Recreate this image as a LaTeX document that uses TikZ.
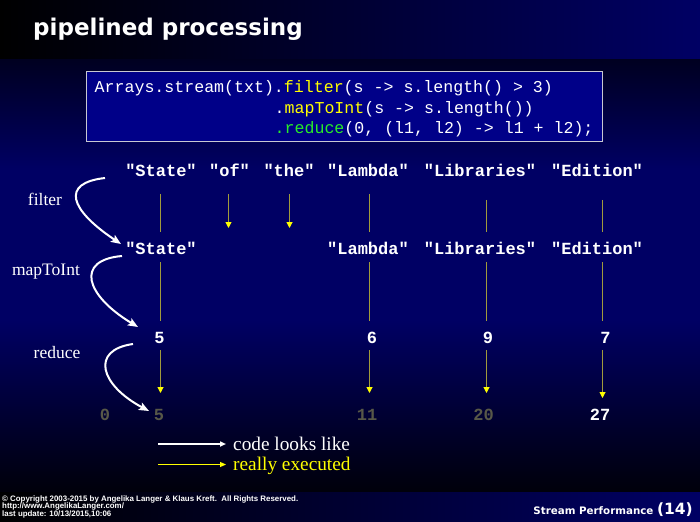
\documentclass[tikz,border=0pt]{standalone}
\usepackage{fontspec}
\setmainfont{Liberation Serif}
\setmonofont{Liberation Mono}
\setsansfont{Liberation Sans}
\newfontfamily\titlefont{DejaVu Sans}
\usetikzlibrary{arrows.meta}

\definecolor{navy}{RGB}{0,0,100}
\definecolor{navytop}{RGB}{0,0,32}
\definecolor{navybot}{RGB}{0,0,10}
\definecolor{boxblue}{RGB}{0,0,136}
\definecolor{boxborder}{RGB}{200,200,210}
\definecolor{codeyellow}{RGB}{255,255,0}
\definecolor{codegreen}{RGB}{40,235,40}
\definecolor{lineyellow}{RGB}{160,155,60}
\definecolor{dimgray}{RGB}{88,88,72}

\tikzset{
  word/.style={anchor=base, inner sep=0pt, text=white, font=\ttfamily\bfseries\fontsize{17}{20}\selectfont},
  dimword/.style={word, text=dimgray},
  codeline/.style={anchor=base west, inner sep=0pt, text=white, font=\ttfamily\fontsize{16.6}{20}\selectfont},
  lbl/.style={inner sep=0pt, text=white, font=\fontsize{17.5}{20}\selectfont},
  legendtext/.style={anchor=base west, inner sep=0pt, font=\fontsize{19.3}{22}\selectfont},
  foot/.style={anchor=base west, inner sep=0pt, text=white, font=\sffamily\bfseries\fontsize{7.9}{8}\selectfont},
  yline/.style={draw=lineyellow, line width=1pt},
  yarrow/.style={yline, -{Triangle[length=6pt,width=6pt,color=codeyellow,fill=codeyellow]}},
  warrow/.style={draw=white, line width=2pt, -{Stealth[length=10pt,width=8pt,inset=2pt]}}
}

\begin{document}
\begin{tikzpicture}[x=1pt,y=-1pt]
\useasboundingbox (0,0) rectangle (700,521);
% backgrounds
\fill[navy] (0,0) rectangle (700,521);
\shade[top color=navytop, bottom color=navy] (0,58.5) rectangle (700,170);
\shade[top color=navy, bottom color=navybot] (0,320) rectangle (700,492);
\shade[left color=black, right color=navy] (0,0) rectangle (700,58.5);
\shade[left color=black, right color=navy] (0,492) rectangle (700,521);

% title
\node[anchor=base west, inner sep=0pt, text=white, font=\titlefont\bfseries\fontsize{23}{28}\selectfont] (title) at (33,36) {pipelined processing};

% code box
\node[draw=boxborder, line width=1pt, fill=boxblue, minimum width=516pt, minimum height=70pt, anchor=north west, inner sep=0pt] (codebox) at (86,71) {};
\node[codeline] (code1) at (94.5,92.5) {Arrays.stream(txt).\textcolor{codeyellow}{filter}(s -> s.length() > 3)};
\node[codeline] (code2) at (274.5,113.2) {.\textcolor{codeyellow}{mapToInt}(s -> s.length())};
\node[codeline] (code3) at (274.5,133.9) {\textcolor{codegreen}{.reduce}(0, (l1, l2) -> l1 + l2);};

% row 1
\node[word] (st1) at (161,177) {"State"};
\node[word] (of1) at (229.5,177) {"of"};
\node[word] (th1) at (289,177) {"the"};
\node[word] (la1) at (368,177) {"Lambda"};
\node[word] (li1) at (480,177) {"Libraries"};
\node[word] (ed1) at (597,177) {"Edition"};
% row 2
\node[word] (st2) at (161,254) {"State"};
\node[word] (la2) at (368,254) {"Lambda"};
\node[word] (li2) at (480,254) {"Libraries"};
\node[word] (ed2) at (597,254) {"Edition"};
% row 3
\node[word] (n1) at (159.5,343) {5};
\node[word] (n2) at (372,343) {6};
\node[word] (n3) at (488,343) {9};
\node[word] (n4) at (605.5,343) {7};
% row 4
\node[dimword] (r0) at (105,420.5) {0};
\node[dimword] (r1) at (159,420.5) {5};
\node[dimword] (r2) at (367,420.5) {11};
\node[dimword] (r3) at (483.5,420.5) {20};
\node[word] (r4) at (600,420.5) {27};

% column positions
\coordinate (k1) at (160.5,0);
\coordinate (k2) at (369.5,0);
\coordinate (k3) at (486.5,0);
\coordinate (k4) at (602.5,0);
\coordinate (ofend) at (228.5,228);
\coordinate (thend) at (289.5,228);

% row 1 -> row 2
\draw[yline, shorten <=17pt, shorten >=22pt] (st1.base -| k1) -- (st2.base -| k1);
\draw[yarrow, shorten <=17pt] (of1.base -| ofend) -- (ofend);
\draw[yarrow, shorten <=17pt] (th1.base -| thend) -- (thend);
\draw[yline, shorten <=17pt, shorten >=22pt] (la1.base -| k2) -- (la2.base -| k2);
\draw[yline, shorten <=23pt, shorten >=22pt] (li1.base -| k3) -- (li2.base -| k3);
\draw[yline, shorten <=23pt, shorten >=22pt] (ed1.base -| k4) -- (ed2.base -| k4);
% row 2 -> row 3
\draw[yline, shorten <=8pt, shorten >=22pt] (st2.base -| k1) -- (n1.base -| k1);
\draw[yline, shorten <=8pt, shorten >=22pt] (la2.base -| k2) -- (n2.base -| k2);
\draw[yline, shorten <=8pt, shorten >=22pt] (li2.base -| k3) -- (n3.base -| k3);
\draw[yline, shorten <=8pt, shorten >=22pt] (ed2.base -| k4) -- (n4.base -| k4);
% row 3 -> row 4
\draw[yarrow, shorten <=7pt, shorten >=27.5pt] (n1.base -| k1) -- (r1.base -| k1);
\draw[yarrow, shorten <=7pt, shorten >=27.5pt] (n2.base -| k2) -- (r2.base -| k2);
\draw[yarrow, shorten <=7pt, shorten >=27.5pt] (n3.base -| k3) -- (r3.base -| k3);
\draw[yarrow, shorten <=7pt, shorten >=22.5pt] (n4.base -| k4) -- (r4.base -| k4);

% left labels
\node[lbl] (lf) at (45,199) {filter};
\node[lbl] (lm) at (46,272) {mapToInt};
\node[lbl] (lr) at (57,353) {reduce};

% white curved arrows
\coordinate (fa) at (105,178);
\coordinate (fb) at (121,244);
\coordinate (ma) at (122,256);
\coordinate (mb) at (138,327);
\coordinate (ra) at (133,344);
\coordinate (rb) at (149,411);
\draw[warrow] (fa) .. controls (60,183) and (70,210) .. (fb);
\draw[warrow] (ma) .. controls (75,260) and (85,295) .. (mb);
\draw[warrow] (ra) .. controls (90,350) and (100,385) .. (rb);

% legend
\coordinate (lw1) at (158,444);
\coordinate (lw2) at (226,444);
\coordinate (ly1) at (158,464.5);
\coordinate (ly2) at (226,464.5);
\draw[draw=white, line width=2pt, -{Triangle[length=6pt,width=5pt]}] (lw1) -- (lw2);
\draw[draw=codeyellow, line width=1pt, -{Triangle[length=6pt,width=5pt]}] (ly1) -- (ly2);
\node[legendtext, text=white] (lt1) at (233,450) {code looks like};
\node[legendtext, text=codeyellow] (lt2) at (233,470) {really executed};

% footer
\node[foot] (f1) at (2,501) {© Copyright 2003-2015 by Angelika Langer \& Klaus Kreft.\ \ All Rights Reserved.};
\node[foot] (f2) at (2,508.5) {http://www.AngelikaLanger.com/};
\node[foot] (f3) at (2,516) {last update: 10/13/2015,10:06};
\node[anchor=base east, inner sep=0pt, text=white, font=\titlefont\bfseries] (sp) at (693,514) {{\fontsize{10.3}{14}\selectfont Stream Performance }{\fontsize{15.5}{22}\selectfont(14)}};
\end{tikzpicture}
\end{document}
